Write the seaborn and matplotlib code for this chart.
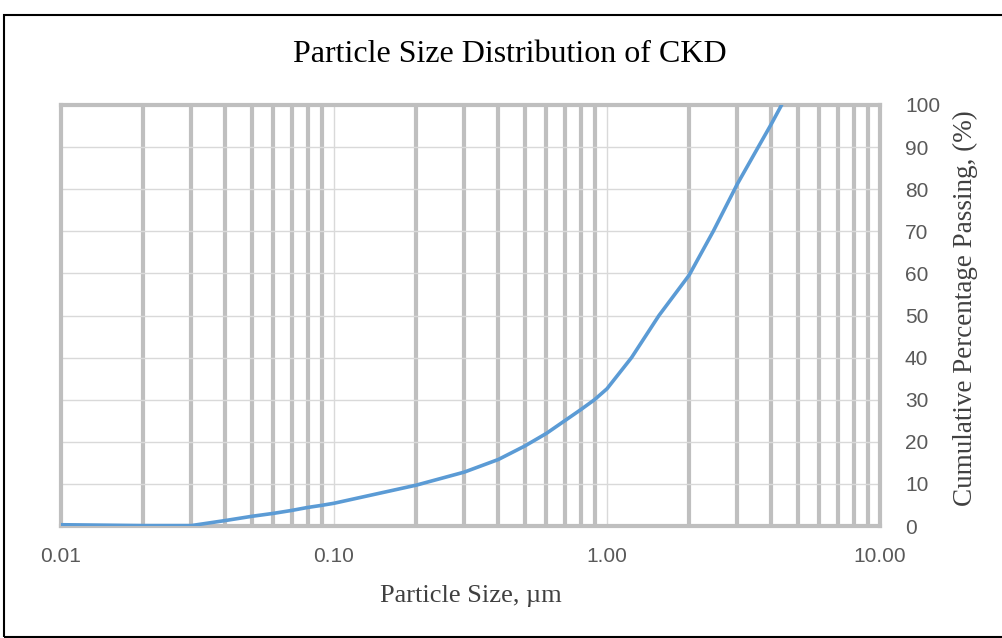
import matplotlib
matplotlib.use("Agg")
import matplotlib.pyplot as plt
import seaborn as sns
import pandas as pd
from matplotlib.patches import Rectangle
from matplotlib.ticker import FixedLocator, NullFormatter

# Data
particle_size = [0.01, 0.02, 0.03, 0.04, 0.05, 0.06, 0.07, 0.08, 0.09, 0.10,
                 0.20, 0.30, 0.40, 0.50, 0.60, 0.70, 0.80, 0.90, 1.00,
                 1.23, 1.55, 2.00, 2.45, 3.00, 3.58, 4.00, 4.36]
cum_passing = [0.3, 0.1, 0.1, 1.3, 2.3, 3.0, 3.7, 4.4, 4.9, 5.4,
               9.7, 12.8, 15.8, 19.0, 22.0, 25.0, 27.6, 30.0, 32.6,
               40.0, 50.0, 59.6, 70.0, 81.2, 90.0, 95.5, 100.0]
x_ticks = [0.01, 0.1, 1.0, 10.0]
x_tick_labels = ["0.01", "0.10", "1.00", "10.00"]
y_ticks = [0, 10, 20, 30, 40, 50, 60, 70, 80, 90, 100]

df = pd.DataFrame({"size": particle_size, "passing": cum_passing})

sns.set_theme(style="white")
plt.rcParams["font.family"] = ["Liberation Serif", "DejaVu Serif"]

W, H = 1003, 638
fig = plt.figure(figsize=(W / 100, H / 100), dpi=100)
ax = fig.add_axes([61 / W, 1 - 526 / H, (880 - 61) / W, (526 - 105) / H])

# minor vertical grid (thick)
minor = [m * 10.0 ** e for e in (-2, -1, 0) for m in range(2, 10)]
for xv in minor:
    ax.axvline(xv, color="#BFBFBF", lw=3.0, zorder=1)
for xv in [0.1, 1.0]:
    ax.axvline(xv, color="#D9D9D9", lw=1.0, zorder=1)
for yv in y_ticks[1:-1]:
    ax.axhline(yv, color="#D9D9D9", lw=1.0, zorder=1)

sns.lineplot(data=df, x="size", y="passing", ax=ax, color="#5B9BD5",
             lw=2.6, zorder=3, legend=False)

ax.set_xscale("log")
ax.set_xlim(0.01, 10)
ax.set_ylim(0, 100)
ax.set_xticks(x_ticks)
ax.set_xticklabels(x_tick_labels)
ax.xaxis.set_minor_formatter(NullFormatter())
ax.xaxis.set_minor_locator(FixedLocator([]))
ax.set_yticks(y_ticks)
ax.yaxis.tick_right()
ax.yaxis.set_label_position("right")

for s in ax.spines.values():
    s.set_color("#BFBFBF")
    s.set_linewidth(3.0)
    s.set_zorder(2)

ax.tick_params(axis="both", length=0, labelsize=15, labelcolor="#595959")
ax.tick_params(axis="x", pad=15)
ax.tick_params(axis="y", pad=18)
for lab in ax.get_xticklabels() + ax.get_yticklabels():
    lab.set_family(["Liberation Sans", "DejaVu Sans"])

ax.set_xlabel("Particle Size, µm", fontsize=19, color="#404040",
              va="center", ha="center")
ax.xaxis.set_label_coords(0.5, (526 - 596) / 421)
ax.set_ylabel("Cumulative Percentage Passing, (%)", fontsize=19.5,
              color="#404040", va="center", ha="center", rotation=90)
ax.yaxis.set_label_coords((965 - 61) / 819, (526 - 308) / 421)

fig.text(510 / W, 1 - 55 / H, "Particle Size Distribution of CKD",
         ha="center", va="center", fontsize=23, color="black")

fig.patches.append(Rectangle((4 / W, 1 / H), (W + 10) / W, (636 - 14) / H,
                             transform=fig.transFigure, fill=False,
                             edgecolor="black", lw=1.5, zorder=10))

fig.savefig("out.png", dpi=100)
